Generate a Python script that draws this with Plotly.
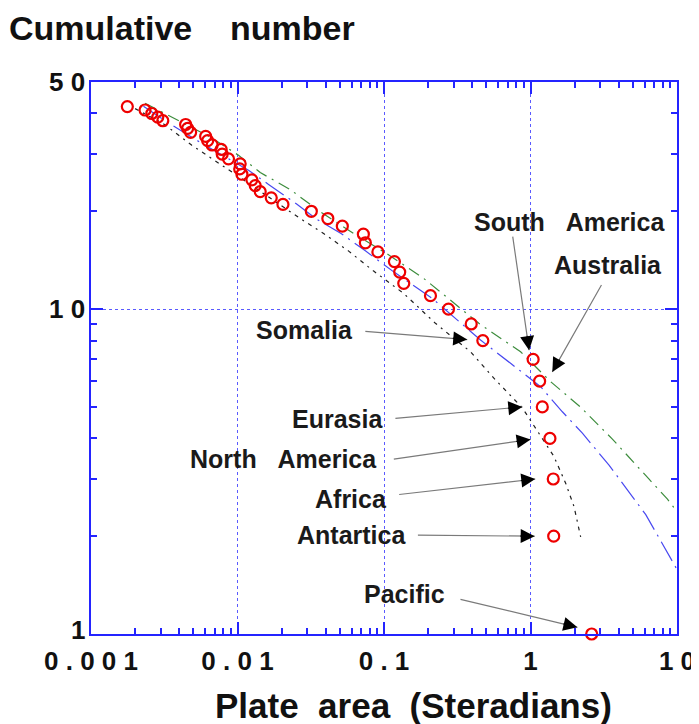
import numpy as np
import plotly.graph_objects as go

# ---------------- data ----------------
# plate areas (steradians), ranked from largest (rank 1) to smallest (rank 42)
plate_area = [2.616, 1.44, 1.43, 1.357, 1.204, 1.154, 1.042, 0.4727, 0.3938, 0.2755,
              0.2076, 0.1364, 0.1280, 0.1178, 0.09085, 0.0746, 0.0723, 0.05195, 0.04136, 0.03191,
              0.02043, 0.01700, 0.01429, 0.01321, 0.01254, 0.01072, 0.01035, 0.01043, 0.008682, 0.00786,
              0.007738, 0.006715, 0.006257, 0.006063, 0.004787, 0.004567, 0.004425, 0.003091, 0.002857, 0.0026,
              0.002339, 0.00177]
cumulative_number = [1, 2, 3, 4, 5, 6, 7, 8, 9, 10,
                     11, 12, 13, 14, 15, 16, 17, 18, 19, 20,
                     21, 22, 23, 24, 25, 26, 27, 28, 29, 30,
                     31, 32, 33, 34, 35, 36, 37, 38, 39, 40,
                     41, 42]
labelled_plates = ["Pacific", "Antartica", "Africa", "North   America", "Eurasia",
                   "Australia", "South   America", "Somalia"]  # ranks 1..8

# fitted curves
blue_x = [0.00228, 0.00352, 0.00528, 0.01189, 0.0163, 0.0252, 0.0345, 0.0509, 0.0746, 0.1165,
          0.2132, 0.3419, 0.456, 0.7311, 1.172, 1.65, 2.26, 3.435, 6.12, 7.47, 10.0]
blue_y = [42.1, 36.97, 33.07, 26.75, 24.2, 21.1, 18.95, 17.09, 15.11, 13.02,
          10.79, 8.99, 8.03, 6.81, 5.77, 4.83, 4.15, 3.31, 2.33, 1.99, 1.58]
green_x = [0.00234, 0.003752, 0.00651, 0.01016, 0.0143, 0.0229, 0.0368, 0.0621, 0.1038, 0.1867,
           0.444, 0.8557, 1.372, 2.20, 3.623, 6.45, 8.61, 10.0]
green_y = [43.0, 38.6, 33.86, 29.75, 26.32, 23.33, 19.91, 17.09, 14.84, 12.43,
           9.04, 7.39, 5.98, 4.99, 3.98, 2.995, 2.60, 2.38]
black_x = [0.0020, 0.00312, 0.00488, 0.00846, 0.0268, 0.0387, 0.0574, 0.0850, 0.1364, 0.2245,
           0.3895, 0.5775, 0.879, 1.084, 1.445, 1.738, 1.981, 2.20]
black_y = [41.4, 37.2, 31.93, 27.07, 19.0, 17.09, 15.08, 13.09, 11.17, 9.04,
           7.39, 6.05, 4.97, 4.30, 3.52, 2.91, 2.47, 1.99]

x_tick_vals = [0.001, 0.01, 0.1, 1, 10]
x_tick_text = ["0 . 0 0 1", "0 . 0 1", "0 . 1", "1", "1 0"]
y_tick_vals = [1, 10, 50]
y_tick_text = ["1", "1 0", "5 0"]

# ---------------- layout helpers ----------------
OFF = 8                       # default page (body) margin in which the figure sits
W, H = 699 - OFF, 724 - OFF   # figure size
PLOT_LEFT, PLOT_RIGHT, PLOT_TOP, PLOT_BOTTOM = 91, 677, 81.6, 634.3   # page pixels
L = PLOT_LEFT - OFF
R = W - (PLOT_RIGHT - OFF)
T = PLOT_TOP - OFF
B = H - (PLOT_BOTTOM - OFF)
plot_w = PLOT_RIGHT - PLOT_LEFT
plot_h = PLOT_BOTTOM - PLOT_TOP


def px_to_paper(px, py):
    return (px - PLOT_LEFT) / plot_w, (PLOT_BOTTOM - py) / plot_h


FONT = "Liberation Sans, Arial, sans-serif"
AXIS_BLUE = "#2424ff"
TICK_FONT = dict(family=FONT, size=26, color="#111111", weight="bold")

fig = go.Figure()

fig.add_trace(go.Scatter(x=green_x, y=green_y, mode="lines",
                         line=dict(color="#3c8c3c", width=1.2, dash="12px,6px,2px,6px"),
                         hoverinfo="skip", showlegend=False))
fig.add_trace(go.Scatter(x=blue_x, y=blue_y, mode="lines",
                         line=dict(color="#4848f0", width=1.2, dash="22px,6px,2px,6px"),
                         hoverinfo="skip", showlegend=False))
fig.add_trace(go.Scatter(x=black_x, y=black_y, mode="lines",
                         line=dict(color="#202020", width=1.2, dash="4px,5px,2px,5px"),
                         hoverinfo="skip", showlegend=False))
fig.add_trace(go.Scatter(x=plate_area, y=cumulative_number, mode="markers",
                         marker=dict(symbol="circle-open", size=11, color="#ee0000",
                                     line=dict(width=2.2, color="#ee0000")),
                         cliponaxis=False, showlegend=False))

# ---------------- labels and arrows ----------------
# per rank: label anchor point (page px), anchor, tip offset from the marker (px), tail offset from tip (px)
label_geom = {
    1: dict(pos=(447, 594), anchor="right", tip=(-14.3, 6.7), tail=(-118.4, -28.3)),
    2: dict(pos=(408, 535.5), anchor="right", tip=(-19, 0), tail=(-118.3, -1)),
    3: dict(pos=(389, 499.5), anchor="right", tip=(-18, 0), tail=(-137.6, 15.7)),
    4: dict(pos=(379, 459.5), anchor="right", tip=(-19.3, -1), tail=(-138.3, 20)),
    5: dict(pos=(385, 419.5), anchor="right", tip=(-20, 0), tail=(-128.4, 11.7)),
    6: dict(pos=(608, 265), anchor="center", tip=(12.7, 9.3), tail=(50, -88.4)),
    7: dict(pos=(569, 222), anchor="center", tip=(-4, 9.3), tail=(-16.6, -115)),
    8: dict(pos=(355, 329.5), anchor="right", tip=(-15.6, 1), tail=(-103.4, -8.3)),
}

annotations = []
for rank, name in enumerate(labelled_plates, start=1):
    g = label_geom[rank]
    px, py = px_to_paper(*g["pos"])
    annotations.append(dict(
        x=px, y=py, xref="paper", yref="paper", xanchor=g["anchor"], yanchor="middle",
        text=name.replace("   ", " \u00a0\u00a0"), showarrow=False,
        font=dict(family=FONT, size=25, color="#1a1a1a", weight="bold")))
    idx = cumulative_number.index(rank)
    ax_, ay_ = g["tail"]
    common = dict(x=np.log10(plate_area[idx]), y=np.log10(cumulative_number[idx]),
                  xref="x", yref="y", axref="pixel", ayref="pixel",
                  xshift=g["tip"][0], yshift=g["tip"][1], text="", showarrow=True)
    annotations.append(dict(common, ax=ax_, ay=ay_, arrowhead=0, arrowwidth=1.2,
                            arrowcolor="#7a7a7a"))
    ln = np.hypot(ax_, ay_)
    annotations.append(dict(common, ax=ax_ * 16 / ln, ay=ay_ * 16 / ln, arrowhead=2,
                            arrowsize=2.8, arrowwidth=1, arrowcolor="#000000"))

# y tick labels drawn as text next to the left axis (the lowest one sits a little higher)
for val, txt in zip(y_tick_vals, y_tick_text):
    annotations.append(dict(x=0, y=np.log10(val), xref="paper", yref="y",
                            xanchor="right", yanchor="middle", xshift=-4,
                            yshift=4 if val == y_tick_vals[0] else 0,
                            text=txt, showarrow=False, font=TICK_FONT))

# x axis title
tx, ty = px_to_paper(413, 706)
annotations.append(dict(x=tx, y=ty, xref="paper", yref="paper", xanchor="center",
                        yanchor="middle", showarrow=False,
                        text="Plate \u00a0area \u00a0(Steradians)",
                        font=dict(family=FONT, size=35, color="#111111", weight="bold")))

x_minor = [m * d for d in (0.001, 0.01, 0.1, 1) for m in range(2, 10)]
y_minor = [2, 3, 4, 5, 6, 7, 8, 9, 20, 30, 40]

axis_common = dict(
    type="log", showline=True, linecolor=AXIS_BLUE, linewidth=2, mirror="ticks",
    ticks="inside", ticklen=12, tickwidth=1.5, tickcolor=AXIS_BLUE,
    showgrid=True, gridcolor="#5a5aff", griddash="dot", gridwidth=1, zeroline=False,
    automargin=False, tickfont=TICK_FONT,
)

fig.update_layout(
    width=W, height=H, margin=dict(l=L, r=R, t=T, b=B, pad=0, autoexpand=False),
    paper_bgcolor="white", plot_bgcolor="white",
    title=dict(text="Cumulative \u00a0\u00a0\u00a0number", x=1 / W, xanchor="left",
               y=1 - (28 - OFF) / H, yanchor="middle", xref="container", yref="container",
               font=dict(family=FONT, size=34, color="#111111", weight="bold")),
    xaxis=dict(axis_common, range=[-3, 1], tickvals=x_tick_vals, ticktext=x_tick_text,
               ticklabelstandoff=3,
               minor=dict(ticks="inside", ticklen=6, tickwidth=1.5, tickcolor=AXIS_BLUE,
                          tickvals=x_minor, showgrid=False)),
    yaxis=dict(axis_common, range=[0, np.log10(50)], tickvals=y_tick_vals,
               showticklabels=False,
               minor=dict(ticks="inside", ticklen=6, tickwidth=1.5, tickcolor=AXIS_BLUE,
                          tickvals=y_minor, showgrid=False)),
    annotations=annotations,
)

fig.write_html("out.html")
